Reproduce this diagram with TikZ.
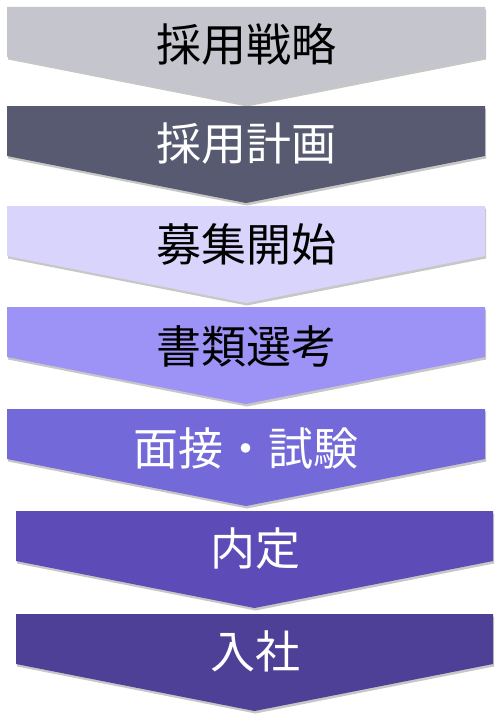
\documentclass[tikz,border=0pt]{standalone}
\usepackage{fontspec}
\newfontfamily\jpfont{Noto Sans CJK JP}
\usetikzlibrary{shadows}
\definecolor{cA}{HTML}{C4C5CD}
\definecolor{cB}{HTML}{575A70}
\definecolor{cC}{HTML}{D8D4FB}
\definecolor{cD}{HTML}{9D93F7}
\definecolor{cE}{HTML}{7369D9}
\definecolor{cF}{HTML}{5D4BB7}
\definecolor{cG}{HTML}{4E3F97}
\tikzset{
  chev/.style={draw=none, drop shadow={shadow xshift=1pt, shadow yshift=-2.5pt, opacity=.22, fill=black}},
  lbl/.style={font=\jpfont\fontsize{45}{45}\selectfont, inner sep=0pt, anchor=center},
}
\newcommand{\chevron}[4]{% left, right, top, color
  \fill[#4, chev] (#1,#3) -- (#2,#3) -- (#2,#3+50) -- ({(#1+#2)/2},#3+97) -- (#1,#3+50) -- cycle;
}
\begin{document}
\begin{tikzpicture}[x=1pt,y=-1pt]
\useasboundingbox[fill=white] (0,0) rectangle (500,725);
\chevron{7}{485}{7}{cA}
\chevron{7}{485}{106}{cB}
\chevron{7}{485}{206}{cC}
\chevron{7}{485}{307}{cD}
\chevron{7}{485}{409}{cE}
\chevron{16}{493}{511}{cF}
\chevron{16}{493}{614}{cG}
\node[lbl, text=black] (s1) at (246,44) {採用戦略};
\node[lbl, text=white] (s2) at (246,144) {採用計画};
\node[lbl, text=black] (s3) at (246,244) {募集開始};
\node[lbl, text=black] (s4) at (246,346) {書類選考};
\node[lbl, text=white] (s5) at (246,448) {面接・試験};
\node[lbl, text=white] (s6) at (255,549) {内定};
\node[lbl, text=white] (s7) at (255,651) {入社};
\end{tikzpicture}
\end{document}
